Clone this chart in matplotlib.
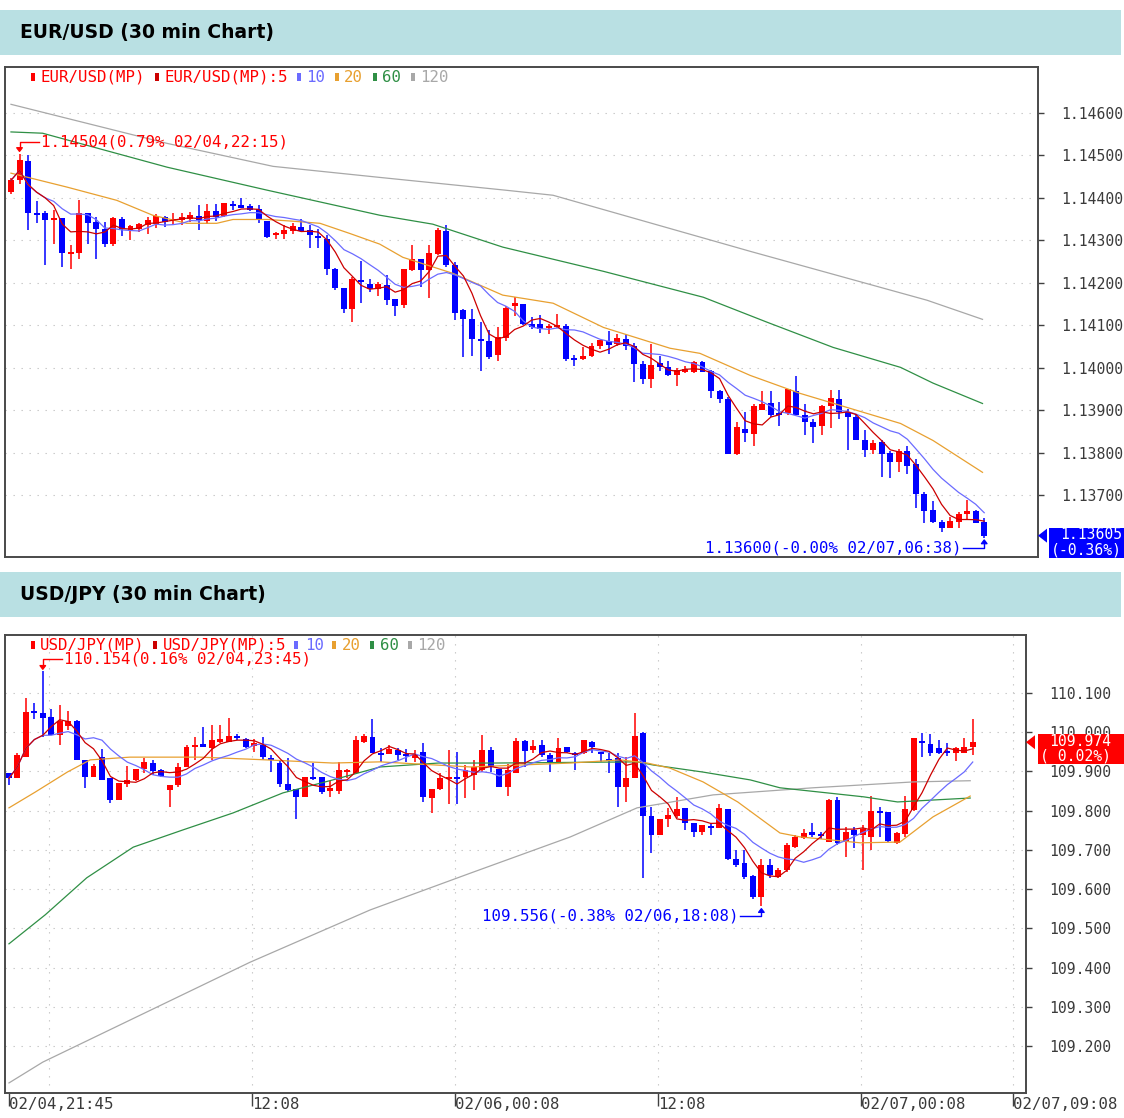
import numpy as np
import pandas as pd
import matplotlib
matplotlib.use('Agg')
import matplotlib.pyplot as plt
from matplotlib.patches import Rectangle, Polygon
from matplotlib.lines import Line2D
from matplotlib.transforms import IdentityTransform

# ---- data: EUR/USD 30 min candles (02/04 21:45 -> 02/07 06:38)
eur_open = [1.14414, 1.14441, 1.14486, 1.14365, 1.14365, 1.14349, 1.14353, 1.14269, 1.14270, 1.14365,
            1.14343, 1.14327, 1.14292, 1.14351, 1.14323, 1.14326, 1.14335, 1.14339, 1.14355, 1.14345,
            1.14347, 1.14349, 1.14357, 1.14345, 1.14368, 1.14357, 1.14384, 1.14382, 1.14380, 1.14373,
            1.14345, 1.14312, 1.14314, 1.14322, 1.14331, 1.14324, 1.14310, 1.14304, 1.14233, 1.14188,
            1.14139, 1.14206, 1.14198, 1.14186, 1.14196, 1.14161, 1.14147, 1.14229, 1.14257, 1.14231,
            1.14268, 1.14322, 1.14241, 1.14135, 1.14116, 1.14067, 1.14062, 1.14029, 1.14071, 1.14147,
            1.14149, 1.14102, 1.14104, 1.14093, 1.14096, 1.14098, 1.14022, 1.14020, 1.14027, 1.14052,
            1.14063, 1.14057, 1.14067, 1.14052, 1.14010, 1.13973, 1.14012, 1.14002, 1.13984, 1.13992,
            1.13991, 1.14014, 1.13993, 1.13946, 1.13927, 1.13798, 1.13856, 1.13845, 1.13901, 1.13916,
            1.13893, 1.13893, 1.13946, 1.13890, 1.13872, 1.13862, 1.13911, 1.13927, 1.13895, 1.13885,
            1.13829, 1.13807, 1.13825, 1.13799, 1.13778, 1.13804, 1.13773, 1.13704, 1.13665, 1.13637,
            1.13623, 1.13638, 1.13655, 1.13663, 1.13636]
eur_high = [1.14446, 1.14504, 1.14500, 1.14392, 1.14368, 1.14371, 1.14353, 1.14290, 1.14396, 1.14365,
            1.14355, 1.14342, 1.14355, 1.14355, 1.14337, 1.14341, 1.14355, 1.14361, 1.14357, 1.14365,
            1.14365, 1.14367, 1.14383, 1.14385, 1.14386, 1.14387, 1.14392, 1.14400, 1.14386, 1.14382,
            1.14345, 1.14320, 1.14335, 1.14341, 1.14349, 1.14335, 1.14327, 1.14312, 1.14235, 1.14188,
            1.14214, 1.14251, 1.14208, 1.14202, 1.14218, 1.14161, 1.14233, 1.14290, 1.14257, 1.14288,
            1.14329, 1.14335, 1.14249, 1.14139, 1.14139, 1.14108, 1.14088, 1.14095, 1.14145, 1.14166,
            1.14149, 1.14120, 1.14124, 1.14102, 1.14127, 1.14104, 1.14029, 1.14048, 1.14058, 1.14065,
            1.14087, 1.14079, 1.14080, 1.14059, 1.14016, 1.14055, 1.14027, 1.14016, 1.13999, 1.14005,
            1.14016, 1.14016, 1.13995, 1.13948, 1.13931, 1.13872, 1.13897, 1.13915, 1.13946, 1.13946,
            1.13920, 1.13951, 1.13981, 1.13915, 1.13880, 1.13913, 1.13948, 1.13948, 1.13903, 1.13891,
            1.13854, 1.13829, 1.13829, 1.13804, 1.13809, 1.13815, 1.13786, 1.13708, 1.13686, 1.13643,
            1.13649, 1.13661, 1.13688, 1.13665, 1.13647]
eur_low = [1.14410, 1.14433, 1.14325, 1.14341, 1.14241, 1.14292, 1.14238, 1.14233, 1.14257, 1.14292,
           1.14255, 1.14284, 1.14286, 1.14310, 1.14300, 1.14319, 1.14314, 1.14329, 1.14331, 1.14337,
           1.14337, 1.14343, 1.14325, 1.14339, 1.14345, 1.14355, 1.14371, 1.14375, 1.14368, 1.14341,
           1.14306, 1.14302, 1.14302, 1.14316, 1.14320, 1.14281, 1.14282, 1.14219, 1.14182, 1.14129,
           1.14108, 1.14153, 1.14178, 1.14169, 1.14147, 1.14121, 1.14141, 1.14227, 1.14190, 1.14165,
           1.14265, 1.14237, 1.14112, 1.14026, 1.14028, 1.13992, 1.14020, 1.14016, 1.14063, 1.14122,
           1.14100, 1.14091, 1.14083, 1.14080, 1.14094, 1.14016, 1.14005, 1.14018, 1.14025, 1.14045,
           1.14033, 1.14052, 1.14041, 1.13966, 1.13963, 1.13952, 1.13993, 1.13981, 1.13958, 1.13987,
           1.13987, 1.13989, 1.13929, 1.13917, 1.13798, 1.13794, 1.13826, 1.13816, 1.13901, 1.13884,
           1.13862, 1.13890, 1.13890, 1.13841, 1.13823, 1.13843, 1.13859, 1.13880, 1.13807, 1.13829,
           1.13790, 1.13798, 1.13743, 1.13741, 1.13755, 1.13751, 1.13669, 1.13634, 1.13634, 1.13614,
           1.13622, 1.13624, 1.13645, 1.13634, 1.13600]
eur_close = [1.14441, 1.14488, 1.14365, 1.14359, 1.14347, 1.14350, 1.14270, 1.14273, 1.14365, 1.14341,
             1.14327, 1.14292, 1.14353, 1.14326, 1.14334, 1.14339, 1.14347, 1.14357, 1.14343, 1.14351,
             1.14355, 1.14359, 1.14347, 1.14369, 1.14355, 1.14387, 1.14381, 1.14376, 1.14371, 1.14349,
             1.14308, 1.14316, 1.14324, 1.14333, 1.14322, 1.14312, 1.14306, 1.14232, 1.14188, 1.14139,
             1.14210, 1.14202, 1.14186, 1.14198, 1.14159, 1.14145, 1.14232, 1.14257, 1.14229, 1.14271,
             1.14324, 1.14241, 1.14130, 1.14114, 1.14067, 1.14062, 1.14025, 1.14073, 1.14140, 1.14151,
             1.14102, 1.14096, 1.14091, 1.14098, 1.14100, 1.14020, 1.14019, 1.14028, 1.14052, 1.14065,
             1.14054, 1.14071, 1.14052, 1.14009, 1.13973, 1.14007, 1.14002, 1.13983, 1.13995, 1.13995,
             1.14014, 1.13991, 1.13946, 1.13927, 1.13798, 1.13860, 1.13846, 1.13909, 1.13915, 1.13890,
             1.13888, 1.13949, 1.13890, 1.13872, 1.13860, 1.13911, 1.13930, 1.13895, 1.13885, 1.13829,
             1.13807, 1.13823, 1.13798, 1.13778, 1.13804, 1.13770, 1.13703, 1.13663, 1.13636, 1.13622,
             1.13639, 1.13655, 1.13663, 1.13634, 1.13605]

# moving averages 20/60/120 (candle index, value)
eur_ma20 = [(0, 1.14458), (6.6, 1.14425), (12.4, 1.14394), (16.6, 1.14359), (20.6, 1.14340), (24.1, 1.14340),
            (26.0, 1.14349), (30.0, 1.14349), (33.0, 1.14345), (36.2, 1.14340), (39.7, 1.14316), (43.2, 1.14291),
            (45.9, 1.14260), (51.8, 1.14222), (57.6, 1.14171), (63.5, 1.14152), (69.4, 1.14095), (77.2, 1.14046),
            (80.7, 1.14034), (86.6, 1.13982), (92.4, 1.13940), (104.2, 1.13869), (108.0, 1.13829), (113.8, 1.13754)]
eur_ma60 = [(0, 1.14555), (3.7, 1.14552), (18.3, 1.14472), (30.0, 1.14418), (43.2, 1.14359), (49.4, 1.14338),
            (57.6, 1.14284), (69.4, 1.14227), (81.1, 1.14166), (88.6, 1.14107), (96.3, 1.14048), (104.2, 1.14001),
            (108.0, 1.13964), (113.8, 1.13916)]
eur_ma120 = [(0, 1.14620), (18.3, 1.14528), (30.7, 1.14474), (43.2, 1.14448), (57.9, 1.14418), (63.5, 1.14406),
             (86.6, 1.14274), (107.3, 1.14159), (113.8, 1.14114)]

# ---- data: USD/JPY 30 min candles
jpy_open = [109.896, 109.882, 109.937, 110.052, 110.049, 110.037, 109.992, 110.015, 110.029, 109.930,
            109.885, 109.937, 109.882, 109.827, 109.868, 109.878, 109.905, 109.922, 109.903, 109.852,
            109.865, 109.910, 109.961, 109.969, 109.958, 109.975, 109.975, 109.990, 109.981, 109.964,
            109.967, 109.935, 109.922, 109.868, 109.854, 109.835, 109.886, 109.885, 109.851, 109.851,
            109.899, 109.895, 109.975, 109.986, 109.946, 109.944, 109.954, 109.944, 109.934, 109.950,
            109.831, 109.854, 109.882, 109.886, 109.886, 109.890, 109.903, 109.954, 109.905, 109.861,
            109.895, 109.978, 109.954, 109.967, 109.941, 109.924, 109.963, 109.947, 109.946, 109.975,
            109.948, 109.930, 109.933, 109.861, 109.882, 109.998, 109.786, 109.738, 109.778, 109.786,
            109.806, 109.769, 109.746, 109.761, 109.755, 109.803, 109.676, 109.666, 109.634, 109.581,
            109.661, 109.630, 109.649, 109.708, 109.729, 109.746, 109.740, 109.721, 109.827, 109.721,
            109.751, 109.738, 109.734, 109.800, 109.797, 109.718, 109.740, 109.801, 109.978, 109.969,
            109.958, 109.952, 109.947, 109.947, 109.961]
jpy_high = [109.896, 109.946, 110.086, 110.075, 110.154, 110.058, 110.069, 110.054, 110.030, 109.930,
            109.918, 109.956, 109.882, 109.871, 109.913, 109.905, 109.933, 109.929, 109.907, 109.865,
            109.922, 109.967, 109.988, 110.013, 110.018, 110.018, 110.035, 109.995, 109.984, 109.981,
            109.986, 109.941, 109.929, 109.935, 109.854, 109.886, 109.920, 109.885, 109.876, 109.924,
            109.907, 109.990, 109.995, 110.032, 109.960, 109.967, 109.959, 109.956, 109.954, 109.973,
            109.854, 109.895, 109.954, 109.950, 109.916, 109.929, 109.992, 109.961, 109.905, 109.918,
            109.984, 109.980, 109.980, 109.980, 109.946, 109.984, 109.963, 109.950, 109.980, 109.978,
            109.950, 109.946, 109.946, 109.937, 110.049, 110.001, 109.810, 109.778, 109.806, 109.835,
            109.806, 109.769, 109.763, 109.769, 109.818, 109.803, 109.700, 109.700, 109.636, 109.678,
            109.676, 109.653, 109.717, 109.738, 109.752, 109.769, 109.746, 109.829, 109.835, 109.759,
            109.759, 109.763, 109.837, 109.810, 109.797, 109.746, 109.837, 109.984, 109.998, 109.995,
            109.980, 109.973, 109.961, 109.984, 110.032]
jpy_low = [109.865, 109.882, 109.937, 110.032, 109.988, 109.992, 109.967, 110.005, 109.929, 109.857,
           109.885, 109.882, 109.820, 109.827, 109.861, 109.876, 109.895, 109.890, 109.885, 109.808,
           109.859, 109.910, 109.929, 109.961, 109.929, 109.973, 109.975, 109.980, 109.958, 109.950,
           109.929, 109.899, 109.861, 109.848, 109.778, 109.835, 109.878, 109.842, 109.834, 109.842,
           109.882, 109.895, 109.971, 109.946, 109.924, 109.944, 109.929, 109.924, 109.924, 109.823,
           109.795, 109.852, 109.818, 109.818, 109.831, 109.852, 109.899, 109.899, 109.861, 109.837,
           109.895, 109.910, 109.946, 109.937, 109.899, 109.920, 109.946, 109.903, 109.944, 109.946,
           109.924, 109.895, 109.810, 109.823, 109.882, 109.628, 109.691, 109.738, 109.759, 109.780,
           109.751, 109.734, 109.738, 109.738, 109.755, 109.674, 109.657, 109.625, 109.574, 109.556,
           109.628, 109.628, 109.645, 109.704, 109.727, 109.734, 109.728, 109.721, 109.712, 109.683,
           109.704, 109.650, 109.700, 109.734, 109.721, 109.715, 109.734, 109.800, 109.937, 109.939,
           109.943, 109.939, 109.927, 109.946, 109.941]
jpy_close = [109.882, 109.941, 110.052, 110.048, 110.035, 109.992, 110.029, 110.029, 109.930, 109.885,
             109.913, 109.879, 109.827, 109.871, 109.878, 109.905, 109.924, 109.901, 109.888, 109.865,
             109.912, 109.961, 109.967, 109.961, 109.980, 109.981, 109.990, 109.984, 109.961, 109.973,
             109.937, 109.929, 109.868, 109.852, 109.835, 109.886, 109.881, 109.848, 109.857, 109.903,
             109.903, 109.980, 109.990, 109.946, 109.943, 109.956, 109.941, 109.939, 109.941, 109.834,
             109.854, 109.882, 109.886, 109.882, 109.903, 109.912, 109.954, 109.910, 109.861, 109.903,
             109.978, 109.952, 109.964, 109.941, 109.923, 109.958, 109.950, 109.941, 109.980, 109.963,
             109.943, 109.926, 109.861, 109.882, 109.990, 109.786, 109.738, 109.778, 109.789, 109.803,
             109.769, 109.746, 109.763, 109.756, 109.806, 109.676, 109.661, 109.630, 109.581, 109.661,
             109.636, 109.650, 109.712, 109.734, 109.744, 109.738, 109.736, 109.827, 109.717, 109.746,
             109.738, 109.752, 109.800, 109.795, 109.723, 109.744, 109.803, 109.984, 109.973, 109.946,
             109.946, 109.947, 109.958, 109.961, 109.974]

jpy_ma20 = [(0, 109.807), (3.1, 109.847), (6.9, 109.898), (9.6, 109.929), (14.3, 109.936), (22.6, 109.936),
            (30.5, 109.929), (38.3, 109.921), (43.9, 109.924), (54.6, 109.911), (66.4, 109.921), (72.3, 109.929),
            (75.5, 109.921), (78.2, 109.908), (82.1, 109.873), (86.2, 109.822), (91.2, 109.743), (93.6, 109.733),
            (100.7, 109.718), (105.4, 109.720), (109.3, 109.784), (113.7, 109.837)]
jpy_ma60 = [(0, 109.461), (4.3, 109.535), (9.2, 109.629), (14.7, 109.707), (20.6, 109.751), (26.5, 109.794),
            (32.4, 109.845), (38.3, 109.878), (43.9, 109.911), (50.8, 109.921), (57.5, 109.921), (74.3, 109.924),
            (76.2, 109.916), (82.1, 109.898), (87.7, 109.878), (91.2, 109.858), (101.1, 109.835), (105.1, 109.822),
            (113.7, 109.832)]
jpy_ma120 = [(0, 109.107), (4.0, 109.160), (28.5, 109.414), (42.7, 109.547), (54.6, 109.641), (66.4, 109.733),
             (74.3, 109.807), (83.3, 109.840), (95.1, 109.858), (107.0, 109.873), (113.7, 109.876)]

eur_ticks = [1.137, 1.138, 1.139, 1.140, 1.141, 1.142, 1.143, 1.144, 1.145, 1.146]
jpy_ticks = [109.2, 109.3, 109.4, 109.5, 109.6, 109.7, 109.8, 109.9, 110.0, 110.1]

first_bar = pd.Timestamp('2019-02-04 21:45')
time_ticks = ['2019-02-04 21:45', '2019-02-05 12:08', '2019-02-06 00:08',
              '2019-02-06 12:08', '2019-02-07 00:08', '2019-02-07 09:08']
time_labels = ['02/04,21:45', '12:08', '02/06,00:08', '12:08', '02/07,00:08', '02/07,09:08']
time_grid = ['2019-02-05 00:08', '2019-02-05 12:08', '2019-02-06 00:08',
             '2019-02-06 12:08', '2019-02-07 00:08', '2019-02-07 09:08']

UP, DOWN = '#ff0000', '#0000ff'
C5, C10, C20, C60, C120 = '#cc0000', '#6b6bff', '#e8a030', '#2f8f45', '#a8a8a8'
MONO = 'DejaVu Sans Mono'
FS = 11.3     # chart text
FS_AX = 10.6  # right axis / price tag

W, H = 1124, 1118
fig = plt.figure(figsize=(W / 100, H / 100), dpi=100)
fig.patch.set_facecolor('white')
ID = IdentityTransform()


def bar_index(ts):
    return (pd.Timestamp(ts) - first_bar) / pd.Timedelta(minutes=30)


def header(ytop, ybot, title):
    fig.add_artist(Rectangle((0, H - ybot), 1121, ybot - ytop, transform=ID,
                             facecolor='#b9e0e3', edgecolor='none'))
    fig.text(20 / W, 1 - (ytop + ybot) / 2 / H, title, fontsize=13.5, fontweight='bold',
             family='DejaVu Sans', ha='left', va='center')


def candles(ax, o, h, l, c, min_body):
    o, h, l, c = map(np.asarray, (o, h, l, c))
    x = np.arange(len(o))
    col = np.where(c >= o, UP, DOWN)
    ax.vlines(x, l, h, colors=col, lw=1.1, zorder=2)
    body = np.maximum(np.abs(c - o), min_body)
    mid = (o + c) / 2
    ax.bar(x, body, 0.7, bottom=mid - body / 2, color=col, lw=0, zorder=3)
    s = pd.Series(c)
    ax.plot(x, s.rolling(5, min_periods=1).mean(), color=C5, lw=0.9, zorder=5)
    ax.plot(x, s.rolling(10, min_periods=1).mean(), color=C10, lw=0.9, zorder=4)


def ma_line(ax, pts, color):
    xs, ys = zip(*pts)
    ax.plot(xs, ys, color=color, lw=0.9, zorder=4)


def style(ax, ticks, fmt):
    for sp in ax.spines.values():
        sp.set_color('#4a4a4a')
        sp.set_linewidth(1.4)
    ax.yaxis.tick_right()
    ax.set_yticks(ticks)
    ax.set_yticklabels([fmt % t for t in ticks])
    ax.tick_params(axis='y', direction='out', length=4.5, width=1, colors='#404040',
                   pad=12.5, labelsize=FS_AX, labelcolor='#3a3a3a')
    for lbl in ax.get_yticklabels():
        lbl.set_family(MONO)
    ax.grid(axis='y', color='#c4c4c4', lw=0.8, ls=(0, (1.2, 6)))
    ax.set_axisbelow(True)


def legend(ypix, name, xs):
    items = [(name, UP, UP), (name + ':5', C5, UP), ('10', C10, C10),
             ('20', C20, C20), ('60', C60, C60), ('120', C120, C120)]
    for (txt, mcol, tcol), (xm, xt) in zip(items, xs):
        fig.add_artist(Rectangle((xm - 2, H - ypix - 4), 4, 8, transform=ID,
                                 facecolor=mcol, edgecolor='none'))
        fig.text(xt / W, 1 - ypix / H, txt, color=tcol, fontsize=FS, family=MONO,
                 ha='left', va='center')


def extreme(ax, i, price, label, color, high):
    x0, y0 = ax.transData.transform((i, price))
    if high:
        yk = y0 + 12
        xs, ys = [x0 + 19, x0, x0], [yk, yk, y0 + 5]
        tri = [(x0 - 3, y0 + 6), (x0 + 3, y0 + 6), (x0, y0 + 2)]
        tx, ha = x0 + 21, 'left'
    else:
        yk = y0 - 10
        xs, ys = [x0 - 21, x0, x0], [yk, yk, y0 - 5]
        tri = [(x0 - 3, y0 - 6), (x0 + 3, y0 - 6), (x0, y0 - 2)]
        tx, ha = x0 - 23, 'right'
    fig.add_artist(Line2D(xs, ys, transform=ID, color=color, lw=1))
    fig.add_artist(Polygon(tri, closed=True, transform=ID, facecolor=color, edgecolor=color, lw=0.8))
    fig.text(tx / W, yk / H, label, color=color, fontsize=FS, family=MONO, ha=ha, va='center')


def price_tag(ax, price, line1, line2, color, x_spine, x_box):
    _, yp = ax.transData.transform((0, price))
    fig.add_artist(Polygon([(x_spine, yp), (x_spine + 9, yp + 7), (x_spine + 9, yp - 7)],
                           closed=True, transform=ID, facecolor=color, edgecolor='none'))
    fig.add_artist(Rectangle((x_box, yp - 22), W - x_box, 30, transform=ID,
                             facecolor=color, edgecolor='none'))
    fig.text((x_box + 11) / W, (yp + 1) / H, line1, color='white', fontsize=FS_AX, family=MONO,
             ha='left', va='center')
    fig.text((x_box + 2) / W, (yp - 14) / H, line2, color='white', fontsize=FS_AX, family=MONO,
             ha='left', va='center')


# ---------------- EUR/USD panel
header(10, 55, 'EUR/USD (30 min Chart)')
ax1 = fig.add_axes([5 / W, 1 - 557 / H, 1033 / W, 490 / H])
ax1.set_xlim(-0.70, 120.3)
ax1.set_ylim(1.135548, 1.147078)
style(ax1, eur_ticks, '%.5f')
ax1.set_xticks([])
ma_line(ax1, eur_ma120, C120)
ma_line(ax1, eur_ma60, C60)
ma_line(ax1, eur_ma20, C20)
candles(ax1, eur_open, eur_high, eur_low, eur_close, 0.00005)
legend(77, 'EUR/USD(MP)', [(33, 40), (157, 164), (299, 306), (337, 344), (375, 382), (413, 420)])

i_hi = int(np.argmax(eur_high))
i_lo = int(np.argmin(eur_low))
extreme(ax1, i_hi, eur_high[i_hi], '%.5f(0.79%% 02/04,22:15)' % eur_high[i_hi], '#ff0000', True)
extreme(ax1, i_lo, eur_low[i_lo], '%.5f(-0.00%% 02/07,06:38)' % eur_low[i_lo], '#0000ff', False)
price_tag(ax1, eur_close[-1], '%.5f' % eur_close[-1], '(-0.36%)', '#0000ff', 1038, 1049)

# ---------------- USD/JPY panel
header(572, 617, 'USD/JPY (30 min Chart)')
ax2 = fig.add_axes([5 / W, 1 - 1093 / H, 1021 / W, 458 / H])
ax2.set_xlim(-0.47, 120.3)
ax2.set_ylim(109.0814, 110.2468)
style(ax2, jpy_ticks, '%.3f')
for t in time_grid:
    ax2.axvline(bar_index(t), color='#c4c4c4', lw=0.8, ls=(0, (1.2, 6)), zorder=0.5)
ax2.set_xticks([bar_index(t) for t in time_ticks])
ax2.set_xticklabels(time_labels)
ax2.tick_params(axis='x', direction='out', length=9, width=1, colors='#404040',
                pad=-6, labelsize=FS, labelcolor='#3a3a3a')
for lbl in ax2.get_xticklabels():
    lbl.set_family(MONO)
    lbl.set_horizontalalignment('left')
ma_line(ax2, jpy_ma120, C120)
ma_line(ax2, jpy_ma60, C60)
ma_line(ax2, jpy_ma20, C20)
candles(ax2, jpy_open, jpy_high, jpy_low, jpy_close, 0.005)
legend(645, 'USD/JPY(MP)', [(33, 40), (155, 163), (296, 305), (334, 342), (372, 380), (410, 417)])

i_hi = int(np.argmax(jpy_high))
i_lo = int(np.argmin(jpy_low))
extreme(ax2, i_hi, jpy_high[i_hi], '%.3f(0.16%% 02/04,23:45)' % jpy_high[i_hi], '#ff0000', True)
extreme(ax2, i_lo, jpy_low[i_lo], '%.3f(-0.38%% 02/06,18:08)' % jpy_low[i_lo], '#0000ff', False)
price_tag(ax2, jpy_close[-1], '%.3f' % jpy_close[-1], '( 0.02%)', '#ff0000', 1026, 1038)

fig.savefig('out.png', dpi=100)
